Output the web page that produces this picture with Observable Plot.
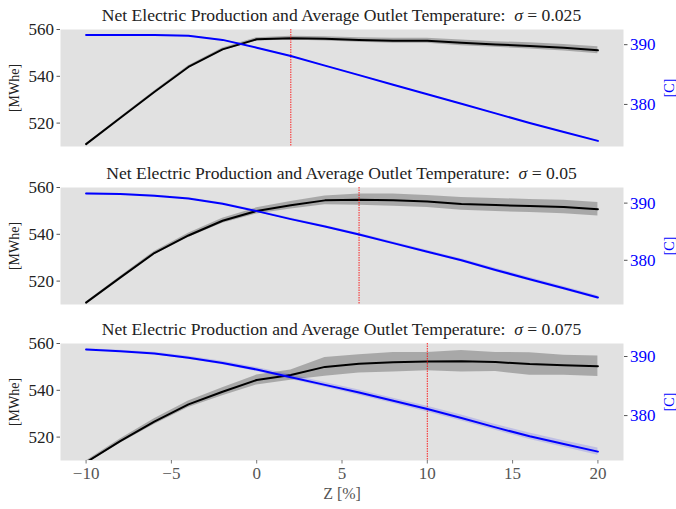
<!DOCTYPE html>
<html><head><meta charset="utf-8">
<script src="https://cdn.jsdelivr.net/npm/d3@7"></script>
<script src="https://cdn.jsdelivr.net/npm/@observablehq/plot@0.6"></script>
<style>
body{margin:0;background:#fff;}
#chart{position:relative;width:676px;height:509px;font-family:"Liberation Serif","Times New Roman",serif;background:#fff;}
.title{position:absolute;left:40px;width:603px;text-align:center;font-size:17.6px;line-height:17px;color:#222;white-space:nowrap;}
.layer{position:absolute;left:0;width:676px;}
.layer svg{position:absolute;left:0;top:0;}
.layer svg text{font-family:"Liberation Serif","Times New Roman",serif;}
</style></head><body><div id="chart"></div>
<script>
// Z [%] sample points
const Z = [-10,-8,-6,-4,-2,0,2,4,6,8,10,12,14,16,18,20];
const xTicks = [-10,-5,0,5,10,15,20];
const sigmas = ["0.025","0.05","0.075"];
const optimum = [2, 6, 10];

// Net electric production [MWhe] (mean) and band half-width
const power025 = [511.0,522.2,533.3,544.0,551.5,555.8,556.3,556.0,555.5,555.2,555.2,554.3,553.6,553.0,552.2,551.1];
const powerSd025 = [0.2,0.3,0.4,0.5,0.6,0.7,0.8,0.9,1.0,1.1,1.1,1.2,1.2,1.3,1.4,1.5];
const power05 = [510.8,521.5,532.0,539.5,545.8,550.0,552.4,554.5,554.8,554.6,554.0,553.0,552.5,552.1,551.7,550.7];
const powerSd05 = [0.3,0.5,0.7,0.9,1.1,1.3,1.6,1.9,2.4,2.6,2.6,2.7,2.8,2.8,2.9,2.9];
const power075 = [509.2,518.3,526.6,534.0,539.4,544.4,546.5,550.0,551.3,552.0,552.3,552.4,552.1,551.2,550.7,550.3];
const powerSd075 = [0.6,0.9,1.2,1.4,1.7,2.1,2.2,4.0,3.9,4.2,3.9,4.6,4.1,4.8,4.3,4.4];

// Average outlet temperature [C] (mean) and band half-width
const temp025 = [391.6,391.6,391.6,391.5,390.8,389.5,388.1,386.5,384.9,383.3,381.7,380.1,378.5,376.9,375.4,373.9];
const tempSd025 = [0.05,0.05,0.05,0.05,0.05,0.05,0.05,0.05,0.05,0.05,0.05,0.05,0.05,0.05,0.05,0.05];
const temp05 = [391.7,391.6,391.3,390.8,389.9,388.6,387.2,385.9,384.5,383.0,381.5,380.0,378.3,376.7,375.1,373.5];
const tempSd05 = [0.1,0.1,0.1,0.15,0.15,0.2,0.2,0.2,0.25,0.25,0.25,0.25,0.3,0.3,0.3,0.3];
const temp075 = [391.2,390.9,390.5,389.8,388.9,387.8,386.5,385.2,383.9,382.5,381.1,379.6,378.0,376.5,375.2,373.9];
const tempSd075 = [0.1,0.15,0.2,0.25,0.3,0.35,0.4,0.4,0.45,0.45,0.5,0.5,0.5,0.55,0.55,0.6];

const power = [power025, power05, power075];
const powerSd = [powerSd025, powerSd05, powerSd075];
const temp = [temp025, temp05, temp075];
const tempSd = [tempSd025, tempSd05, tempSd075];

const W = 676, ML = 60, MR = 53, PH = 117;
const tops = [29, 187, 343];
const FONT = "Liberation Serif, Times New Roman, serif";
const fmt = d => d < 0 ? "\u2212" + (-d) : String(d);
const chart = document.getElementById("chart");

for (let i = 0; i < 3; i++) {
  const last = i === 2;
  const mt = 5, mb = last ? 49 : 5;
  const H = PH + mt + mb;
  const rows = Z.map((z, j) => ({
    z,
    p: power[i][j], plo: power[i][j] - powerSd[i][j], phi: power[i][j] + powerSd[i][j],
    t: temp[i][j], tlo: temp[i][j] - tempSd[i][j], thi: temp[i][j] + tempSd[i][j]
  }));
  const common = {
    width: W, height: H, marginLeft: ML, marginRight: MR, marginTop: mt, marginBottom: mb,
    style: {fontFamily: FONT, fontSize: "17px", background: "transparent", overflow: "visible"}
  };
  const left = Plot.plot({
    ...common,
    x: {domain: [-11.5, 21.5], axis: null},
    y: {domain: [510, 560], axis: null},
    marks: [
      Plot.frame({fill: "#e1e1e1", stroke: null}),
      Plot.areaY(rows, {x: "z", y1: "plo", y2: "phi", fill: "black", fillOpacity: 0.25, clip: true}),
      Plot.lineY(rows, {x: "z", y: "p", stroke: "black", strokeWidth: 2, clip: true}),
      Plot.ruleX([optimum[i]], {stroke: "red", strokeWidth: 1, strokeDasharray: "1.5,1", strokeOpacity: 0.85}),
      Plot.axisY({ticks: [520, 540, 560], tickSize: 3.5, tickPadding: 3, fill: "#222", stroke: "#555", label: null, fontSize: 17, fontFamily: FONT}),
      Plot.text(["[MWhe]"], {text: d => d, frameAnchor: "left", dx: -46, rotate: -90, textAnchor: "middle", lineAnchor: "middle", fontSize: 14, fill: "#222", fontFamily: FONT}),
      ...(last ? [
        Plot.axisX({ticks: xTicks, tickSize: 3.5, tickPadding: 3, tickFormat: fmt, fill: "#555", stroke: "#777", label: null, fontSize: 17, fontFamily: FONT}),
        Plot.text(["Z [%]"], {text: d => d, frameAnchor: "bottom", dy: 33, textAnchor: "middle", lineAnchor: "middle", fontSize: 16, fill: "#555", fontFamily: FONT})
      ] : [])
    ]
  });
  const tmin = d3.min(rows, d => d.tlo), tmax = d3.max(rows, d => d.thi), pad = (tmax - tmin) * 0.05;
  const right = Plot.plot({
    ...common,
    x: {domain: [-11.5, 21.5], axis: null},
    y: {domain: [tmin - pad, tmax + pad], axis: null},
    marks: [
      Plot.areaY(rows, {x: "z", y1: "tlo", y2: "thi", fill: "blue", fillOpacity: 0.15}),
      Plot.lineY(rows, {x: "z", y: "t", stroke: "blue", strokeWidth: 2}),
      Plot.axisY({anchor: "right", ticks: [380, 390], tickSize: 3.5, tickPadding: 3, fill: "blue", stroke: "#555", label: null, fontSize: 17, fontFamily: FONT}),
      Plot.text(["[C]"], {text: d => d, frameAnchor: "right", dx: 46, rotate: -90, textAnchor: "middle", lineAnchor: "middle", fontSize: 14, fill: "blue", fontFamily: FONT})
    ]
  });
  const layer = document.createElement("div");
  layer.className = "layer";
  layer.style.top = (tops[i] - mt) + "px";
  layer.style.height = H + "px";
  layer.appendChild(left);
  layer.appendChild(right);
  chart.appendChild(layer);

  const title = document.createElement("div");
  title.className = "title";
  title.style.top = (tops[i] - 22) + "px";
  title.innerHTML = "Net Electric Production and Average Outlet Temperature:&nbsp; <i>\u03c3</i> = " + sigmas[i];
  chart.appendChild(title);
}
</script></body></html>
